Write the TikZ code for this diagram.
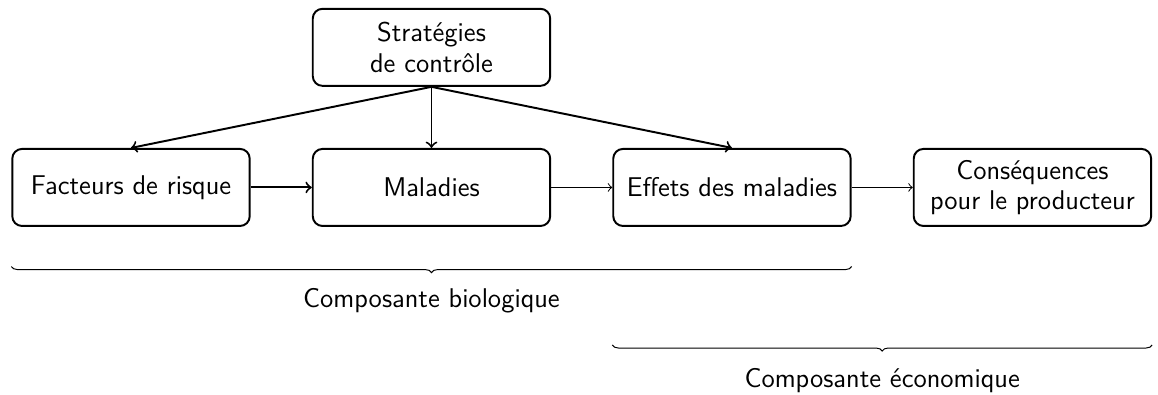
\documentclass[tikz,border=0pt]{standalone}
\usepackage{tikz}
\usetikzlibrary{positioning, decorations.pathreplacing}

\begin{document}
\begin{tikzpicture}[
    font=\sffamily\fontsize{11.1}{12.4}\selectfont,
    node distance=0.88cm,
    box/.style={rectangle, draw, thick, rounded corners=4pt, minimum width=3.42cm, minimum height=1.11cm, align=center},
    arrow/.style={->, thick},
    thinarrow/.style={->},
    bracket/.style={decorate, decoration={brace, mirror, amplitude=2.5pt}}
  ]
    \useasboundingbox (0,0) rectangle (16.68,-5.676);
    \node[box] (risk) at (1.887,-2.70) {Facteurs de risque};
    \node[box, right=of risk] (disease) {Maladies};
    \node[box, right=of disease] (effects) {Effets des maladies};
    \node[box, right=of effects] (producer) {Conséquences\\pour le producteur};
    \node[box, above=of disease] (control) {Stratégies\\de contrôle};

    \draw[arrow] (control.south) -- (risk.north);
    \draw[arrow] (control.south) -- (disease.north);
    \draw[arrow] (control.south) -- (effects.north);
    \draw[arrow] (risk) -- (disease);
    \draw[thinarrow] (disease) -- (effects);
    \draw[thinarrow] (effects) -- (producer);

    \draw[bracket] ([yshift=-0.57cm]risk.south west) -- ([yshift=-0.57cm]effects.south east)
      node[midway, yshift=-14pt] (biolabel) {Composante biologique};
    \draw[bracket] ([yshift=-1.7cm]effects.south west) -- ([yshift=-1.7cm]producer.south east)
      node[midway, yshift=-14.5pt] (ecolabel) {Composante économique};
  \end{tikzpicture}
\end{document}
